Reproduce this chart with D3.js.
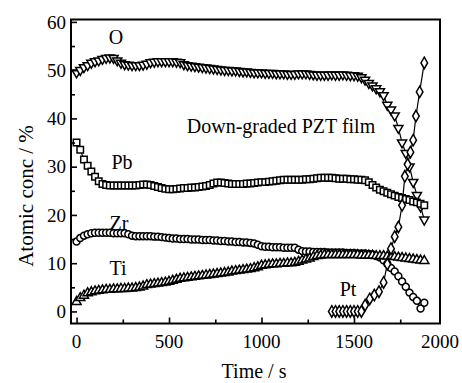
<!DOCTYPE html>
<html><head><meta charset="utf-8">
<script src="https://cdn.jsdelivr.net/npm/d3@7"></script>
<style>
html,body{margin:0;padding:0;background:#fff;}
svg{display:block;}
svg text{font-family:"Liberation Serif","Times New Roman",Times,"DejaVu Serif",serif !important;}
</style></head>
<body><svg id="c" width="462" height="383"></svg>
<script>
// ---- data ----
const time = [0,20,40,60,80,100,120,140,160,180,200,220,240,260,280,300,320,340,360,380,400,420,440,460,480,500,520,540,560,580,600,620,640,660,680,700,720,740,760,780,800,820,840,860,880,900,920,940,960,980,1000,1020,1040,1060,1080,1100,1120,1140,1160,1180,1200,1220,1240,1260,1280,1300,1320,1340,1360,1380,1400,1420,1440,1460,1480,1500,1520,1540,1560,1580,1600,1620,1640,1660,1680,1700,1720,1740,1760,1780,1800,1820,1840,1860,1880];
const oVals = [49.5,50.0,50.6,51.0,51.5,51.8,52.0,52.3,52.5,52.6,52.5,52.0,51.5,51.2,51.1,51.0,51.0,51.0,51.1,51.3,51.6,51.7,51.8,51.8,51.8,51.8,51.8,51.7,51.6,51.2,51.0,50.9,50.8,50.7,50.6,50.5,50.4,50.3,50.2,50.1,50.0,50.0,49.9,49.9,49.8,49.7,49.7,49.6,49.5,49.5,49.5,49.4,49.4,49.4,49.3,49.3,49.3,49.2,49.2,49.2,49.3,49.3,49.3,49.2,49.1,49.0,49.0,49.0,49.0,49.1,49.0,49.0,49.1,49.0,48.9,48.9,48.8,48.5,48.0,47.3,46.8,46.2,45.6,44.8,42.8,41.8,40.6,38.0,35.0,32.8,30.0,26.8,24.1,21.7,19.0];
const pbVals = [35.0,33.5,31.5,30.2,29.0,27.9,27.0,26.4,26.2,26.1,26.1,26.1,26.1,26.1,26.1,26.1,26.1,26.2,26.3,26.3,26.2,26.0,25.8,25.6,25.4,25.3,25.3,25.4,25.5,25.6,25.6,25.7,25.7,25.8,25.9,26.0,26.2,26.5,26.7,26.7,26.6,26.5,26.4,26.4,26.4,26.4,26.5,26.5,26.6,26.7,26.8,26.8,26.9,27.0,27.1,27.2,27.3,27.3,27.3,27.3,27.3,27.3,27.4,27.4,27.5,27.6,27.7,27.7,27.7,27.7,27.6,27.5,27.5,27.5,27.4,27.4,27.3,27.3,27.2,26.8,26.2,25.7,25.2,24.9,24.6,24.3,24.0,23.7,23.5,23.3,23.1,22.8,22.6,22.3,22.0];
const zrVals = [14.5,15.2,15.7,16.0,16.2,16.3,16.3,16.3,16.3,16.3,16.2,16.2,16.2,16.2,16.0,15.7,15.6,15.6,15.6,15.6,15.6,15.5,15.5,15.4,15.3,15.2,15.1,15.1,15.0,15.0,15.0,14.9,14.9,14.9,14.8,14.8,14.8,14.7,14.7,14.6,14.6,14.5,14.5,14.4,14.4,14.3,14.3,14.2,14.1,13.8,13.5,13.4,13.4,13.3,13.3,13.3,13.2,13.2,13.2,13.2,12.8,12.5,12.4,12.4,12.3,12.3,12.3,12.3,12.2,12.2,12.2,12.2,12.2,12.1,12.1,12.1,12.0,12.0,12.0,11.9,11.8,11.5,11.2,10.6,9.9,9.0,8.3,7.3,6.2,5.1,3.9,3.0,2.2,0.6,1.8];
const tiVals = [2.0,2.8,3.3,3.8,4.0,4.2,4.3,4.4,4.5,4.5,4.6,4.6,4.7,4.7,4.8,4.8,4.9,5.0,5.2,5.5,5.6,5.7,5.8,5.9,6.0,6.2,6.4,6.6,6.8,6.9,7.0,7.1,7.2,7.3,7.4,7.5,7.6,7.7,7.8,7.9,8.0,8.1,8.3,8.4,8.5,8.6,8.7,8.8,9.0,9.2,9.5,9.6,9.7,9.8,9.8,9.9,9.9,10.0,10.0,10.1,10.3,10.6,10.8,11.0,11.3,11.5,11.6,11.7,11.7,11.7,11.7,11.7,11.7,11.7,11.7,11.7,11.7,11.6,11.6,11.6,11.6,11.5,11.5,11.5,11.4,11.4,11.3,11.2,11.1,11.0,10.9,10.8,10.7,10.6,10.5];
const ptTime = [1380,1400,1420,1440,1460,1480,1500,1520,1540,1560,1585,1610,1635,1660,1680,1700,1720,1740,1760,1775,1790,1805,1820,1835,1855,1880];
const ptVals = [0,0,0,0,0,0,0,0,0,1.3,2.6,3.4,4.1,6.0,9.8,13.0,15.5,17.5,22.0,28.0,30.5,33.0,35.5,40.5,45.5,51.5];
const yTicks = [0,10,20,30,40,50,60];
const yMinor = [5,15,25,35,45,55];
const xTicks = [0,500,1000,1500];
const xMinor = [250,750,1250,1750];
const xTickLabels = ["0","500","1000","1500","2000"];
const xTickLabelVals = [0,500,1000,1500,2000];

// ---- layout ----
const FF = "'Liberation Serif','Times New Roman',Times,serif";
const L = 71, R = 440, T = 19.5, B = 323.5;
const svg = d3.select("#c").attr("font-family", FF);
const x = d3.scaleLinear().domain([-30, 1965]).range([L, R]);
const y = d3.scaleLinear().domain([-2.5, 60.5]).range([B, T]);

const plot = svg.append("g");
const line = d3.line().x(d => x(d[0])).y(d => y(d[1]));

function series(ts, vs, symType, size, rot) {
  const pts = ts.map((t, i) => [t, vs[i]]);
  plot.append("path").attr("d", line(pts)).attr("fill", "none").attr("stroke", "#000").attr("stroke-width", 1.2);
  const sym = d3.symbol().type(symType).size(size);
  plot.selectAll(null).data(pts).enter().append("path")
    .attr("d", sym)
    .attr("transform", d => `translate(${x(d[0])},${y(d[1])})` + (rot ? ` rotate(${rot})` : ""))
    .attr("fill", "#fff").attr("stroke", "#000").attr("stroke-width", 1.5);
}
series(time, oVals, d3.symbolTriangle, 36, 180);
series(time, pbVals, d3.symbolSquare, 42, 0);
series(time, zrVals, d3.symbolCircle, 38, 0);
series(time, tiVals, d3.symbolTriangle, 36, 0);
series(ptTime, ptVals, d3.symbolDiamond, 38, 0);

// ---- axes ----
const fs = "19px";
const ax = svg.append("g").attr("transform", `translate(${L},0)`)
  .call(d3.axisLeft(y).tickValues(yTicks).tickSize(-6).tickPadding(5).tickFormat(d3.format("d")));
const axm = svg.append("g").attr("transform", `translate(${L},0)`)
  .call(d3.axisLeft(y).tickValues(yMinor).tickSize(-4).tickFormat(""));
const bx = svg.append("g").attr("transform", `translate(0,${B})`)
  .call(d3.axisBottom(x).tickValues(xTicks).tickSize(-6).tickFormat(""));
const bxm = svg.append("g").attr("transform", `translate(0,${B})`)
  .call(d3.axisBottom(x).tickValues(xMinor).tickSize(-4).tickFormat(""));
[ax, axm, bx, bxm].forEach(g => {
  g.attr("font-family", FF);
  g.select(".domain").remove();
  g.selectAll(".tick line").attr("stroke", "#000").attr("stroke-width", 1.6);
});
ax.selectAll(".tick text").attr("font-size", fs).attr("font-family", FF).attr("fill", "#000");

svg.append("g").selectAll("text").data(xTickLabelVals).enter().append("text")
  .attr("x", d => Math.min(x(d), R)).attr("y", 348)
  .attr("text-anchor", "middle").attr("font-size", fs).attr("font-family", FF).attr("fill", "#000")
  .text((d, i) => xTickLabels[i]);

svg.append("rect").attr("x", L).attr("y", T).attr("width", R - L).attr("height", B - T)
  .attr("fill", "none").attr("stroke", "#000").attr("stroke-width", 2);

// ---- labels ----
svg.append("text").attr("x", 254).attr("y", 378).attr("text-anchor", "middle").attr("font-size", "20px").attr("font-family", FF).text("Time / s");
svg.append("text").attr("transform", "translate(33,196) rotate(-90)").attr("text-anchor", "middle").attr("font-size", "21px").attr("font-family", FF).text("Atomic conc / %");

const ann = [["O",116,44],["Pb",122,169],["Zr",119,230],["Ti",118,275],["Pt",348,296],["Down-graded PZT film",281,133]];
svg.append("g").selectAll("text").data(ann).enter().append("text")
  .attr("x", d => d[1]).attr("y", d => d[2]).attr("text-anchor", "middle").attr("font-size", "20px").attr("font-family", FF).text(d => d[0]);
</script></body></html>
